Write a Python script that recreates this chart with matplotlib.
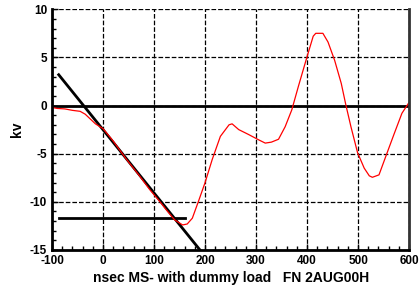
import matplotlib
matplotlib.use("Agg")
import matplotlib.pyplot as plt
from matplotlib.ticker import MultipleLocator

# red trace (nsec, kV)
t_ns = [-100, -90, -75, -60, -45, -35, -25, -15, 0, 20, 46, 70, 91, 111, 125, 140,
        156, 165, 175, 188, 200, 214, 230, 247, 253, 266, 285, 305, 318, 330,
        344, 357, 370, 383, 399, 412, 417, 431, 441, 454, 467, 476, 486, 499,
        512, 522, 528, 541, 557, 570, 586, 599]
kv = [-0.2, -0.3, -0.35, -0.5, -0.6, -0.9, -1.4, -1.9, -2.4, -3.7, -5.6, -7.2, -8.7,
      -9.96, -10.9, -11.86, -12.4, -12.3, -11.7, -9.8, -8.0, -5.6, -3.2, -2.0,
      -1.9, -2.5, -3.0, -3.56, -3.9, -3.8, -3.5, -2.2, -0.45, 2.0, 4.9, 7.2,
      7.5, 7.5, 6.6, 4.7, 2.3, 0.07, -2.2, -4.9, -6.5, -7.3, -7.45, -7.2, -4.9,
      -3.04, -0.8, 0.25]

# fitted slope line and level line
slope_x = [-87, 190]
slope_y = [3.2, -15]
level_x = [-87, 160]
level_y = [-11.7, -11.7]

plt.rcParams['font.family'] = ['Liberation Sans', 'DejaVu Sans']
plt.rcParams['font.weight'] = 'bold'
plt.rcParams['axes.unicode_minus'] = False

fig = plt.figure(figsize=(4.2, 2.89), dpi=100)
ax = fig.add_axes([0.124, 0.135, 0.850, 0.833])

ax.grid(which='major', linestyle='--', color='black', linewidth=0.9)
ax.axhline(0, color='black', linewidth=2)
ax.plot(slope_x, slope_y, color='black', linewidth=2)
ax.plot(level_x, level_y, color='black', linewidth=2)
ax.plot(t_ns, kv, color='red', linewidth=0.9)

ax.set_xlim(-100, 600)
ax.set_ylim(-15, 10)
ax.xaxis.set_major_locator(MultipleLocator(100))
ax.xaxis.set_minor_locator(MultipleLocator(20))
ax.yaxis.set_major_locator(MultipleLocator(5))
ax.yaxis.set_minor_locator(MultipleLocator(1))
ax.tick_params(which='both', direction='in', top=False, right=False, labelsize=8.5, width=1)
ax.tick_params(which='major', length=4)
ax.tick_params(which='minor', length=3)

ax.spines['top'].set_visible(False)
for s in ['left', 'bottom']:
    ax.spines[s].set_linewidth(2)
ax.spines['right'].set_linewidth(2)
ax.spines['right'].set_color('#333333')

ax.set_xlabel('nsec MS- with dummy load   FN 2AUG00H', fontsize=10, fontweight='bold', labelpad=3)
ax.set_ylabel('kv', fontsize=10, fontweight='bold', labelpad=4)

fig.savefig('out.png', dpi=100)
